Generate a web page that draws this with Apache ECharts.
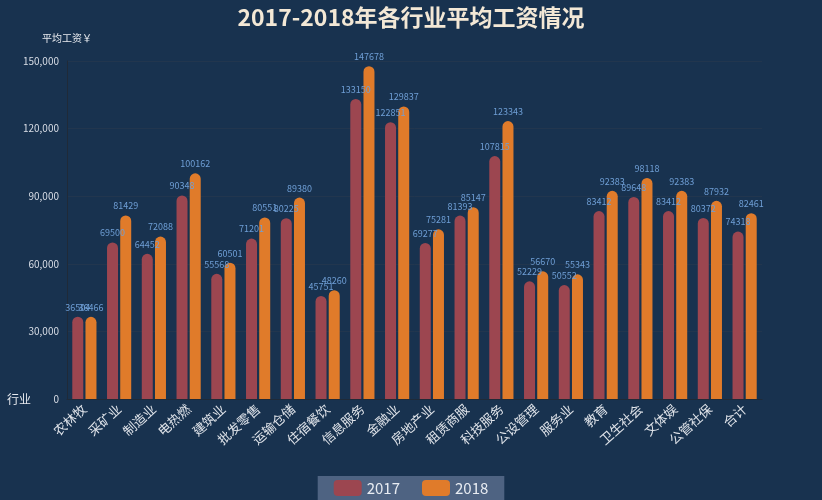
<!DOCTYPE html>
<html><head><meta charset="utf-8">
<script src="https://cdn.jsdelivr.net/npm/echarts@6/dist/echarts.min.js"></script>
<style>html,body{margin:0;padding:0;background:#18324f;}#c{width:822px;height:500px;}</style>
</head><body><div id="c"></div>
<script>
var categories = ['农林牧','采矿业','制造业','电热燃','建筑业','批发零售','运输仓储','住宿餐饮','信息服务','金融业','房地产业','租赁商服','科技服务','公设管理','服务业','教育','卫生社会','文体娱','公管社保','合计'];
var data2017 = [36504,69500,64452,90348,55568,71201,80225,45751,133150,122851,69277,81393,107815,52229,50552,83412,89648,83412,80372,74318];
var data2018 = [36466,81429,72088,100162,60501,80551,89380,48260,147678,129837,75281,85147,123343,56670,55343,92383,98118,92383,87932,82461];
var yTicks = [0,30000,60000,90000,120000,150000];

var chart = echarts.init(document.getElementById('c'));
var lbl = {show:true, position:'top', color:'#6f9fd6', fontSize:9, distance:5, fontFamily:'Noto Sans CJK SC'};
chart.setOption({
  backgroundColor:'#18324f',
  textStyle:{fontFamily:'Noto Sans CJK SC'},
  title:{text:'2017-2018年各行业平均工资情况', left:'center', top:1,
    textStyle:{color:'#f3e8d6', fontSize:23, fontWeight:'bold', fontFamily:'Noto Sans CJK SC'}},
  grid:{left:67, right:60, top:61, bottom:101},
  legend:{data:['2017','2018'], bottom:-6, left:'center', itemWidth:28, itemHeight:16, itemGap:22,
    padding:[4,16,10,16],
    backgroundColor:'#4e6382', borderColor:'#aebbd0', borderWidth:0,
    textStyle:{color:'#e8ecf2', fontSize:15}},
  xAxis:{type:'category', data:categories, name:'行业', nameLocation:'start', nameGap:36,
    nameTextStyle:{color:'#e6e9ee', fontSize:12, verticalAlign:'middle'},
    axisLine:{lineStyle:{color:'#1f2a38'}}, axisTick:{show:false},
    axisLabel:{color:'#e0e4ea', fontSize:13, rotate:42, interval:0, margin:8}},
  yAxis:{type:'value', min:yTicks[0], max:yTicks[yTicks.length-1], interval:30000, name:'平均工资￥', nameGap:18,
    nameTextStyle:{color:'#e6e9ee', fontSize:10, align:'center'},
    axisLine:{show:true, lineStyle:{color:'#1f2a38'}}, axisTick:{show:false},
    splitLine:{lineStyle:{color:'#22364e'}},
    axisLabel:{color:'#d8dde6', fontSize:10, formatter:function(v){return v.toLocaleString('en-US');}}},
  series:[
    {name:'2017', type:'bar', data:data2017, barWidth:11, barGap:'20%',
      itemStyle:{color:'#9c4650', borderRadius:[6,6,0,0]}, label:lbl},
    {name:'2018', type:'bar', data:data2018, barWidth:11,
      itemStyle:{color:'#e07b2a', borderRadius:[6,6,0,0]}, label:lbl}
  ]
});
</script></body></html>
